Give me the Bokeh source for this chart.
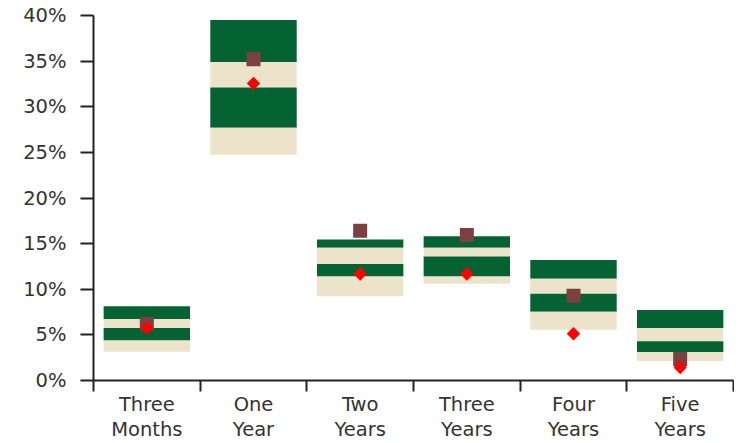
from bokeh.plotting import figure
from bokeh.models import Range1d, FixedTicker, NumeralTickFormatter, ColumnDataSource
from bokeh.embed import file_html
from bokeh.resources import INLINE
import numpy as np

categories = ["Three\nMonths", "One\nYear", "Two\nYears", "Three\nYears", "Four\nYears", "Five\nYears"]
# band boundaries (percent), top to bottom
p05 = [8.15, 39.5, 15.46, 15.82, 13.2, 7.72]
p25 = [6.75, 34.9, 14.56, 14.56, 11.14, 5.74]
p50 = [5.74, 32.1, 12.76, 13.59, 9.52, 4.3]
p75 = [4.37, 27.7, 11.39, 11.39, 7.54, 3.11]
p95 = [3.15, 24.75, 9.23, 10.6, 5.56, 2.14]
squares = [6.2, 35.2, 16.4, 15.95, 9.29, 2.36]
diamonds = [5.74, 32.56, 11.68, 11.68, 5.13, 1.42]
y_ticks = [0, 5, 10, 15, 20, 25, 30, 35, 40]

GREEN = "#056333"
BEIGE = "#EDE3CB"

x = [i + 0.5 for i in range(len(categories))]
f = lambda a: [v / 100 for v in a]
src = ColumnDataSource(dict(x=x, p05=f(p05), p25=f(p25), p50=f(p50), p75=f(p75), p95=f(p95),
                            sq=f(squares), dm=f(diamonds)))

p = figure(width=734, height=443, output_backend="svg", toolbar_location=None,
           x_range=Range1d(0, len(categories)), y_range=Range1d(0, 0.40),
           min_border_left=93, min_border_right=1, min_border_top=15, min_border_bottom=40)
p.outline_line_color = None
p.xgrid.visible = False
p.ygrid.visible = False

W = 0.81
p.vbar(x="x", width=W, bottom="p25", top="p05", source=src, fill_color=GREEN, line_color=None)
p.vbar(x="x", width=W, bottom="p50", top="p25", source=src, fill_color=BEIGE, line_color=None)
p.vbar(x="x", width=W, bottom="p75", top="p50", source=src, fill_color=GREEN, line_color=None)
p.vbar(x="x", width=W, bottom="p95", top="p75", source=src, fill_color=BEIGE, line_color=None)

p.scatter(x="x", y="sq", source=src, marker="square", size=14, fill_color="#7D4040", line_color=None)
p.scatter(x="x", y="dm", source=src, marker="square", angle=np.pi / 4, size=9.5,
          fill_color="#FF0000", line_color=None)

FONT = "DejaVu Sans"
TXT = "#333333"
AX = "#222222"
FS = "19.5px"

xa = p.xaxis[0]
xa.ticker = FixedTicker(ticks=x, minor_ticks=list(range(len(categories) + 1)))
xa.major_label_overrides = {xx: c for xx, c in zip(x, categories)}
xa.major_tick_out = 0
xa.major_tick_in = 0
xa.minor_tick_out = 11
xa.minor_tick_in = 0
xa.minor_tick_line_width = 2
xa.minor_tick_line_color = AX
xa.axis_line_width = 2
xa.axis_line_color = AX
xa.major_label_text_font = FONT
xa.major_label_text_font_size = FS
xa.major_label_text_color = TXT
xa.major_label_text_line_height = 1.1
xa.major_label_standoff = 1

ya = p.yaxis[0]
ya.ticker = FixedTicker(ticks=[t / 100 for t in y_ticks], minor_ticks=[])
ya.formatter = NumeralTickFormatter(format="0%")
ya.major_tick_out = 13
ya.major_tick_in = 0
ya.major_tick_line_width = 2
ya.major_tick_line_color = AX
ya.axis_line_width = 2
ya.axis_line_color = AX
ya.major_label_text_font = FONT
ya.major_label_text_font_size = FS
ya.major_label_text_color = TXT
ya.major_label_standoff = 14

open("out.html", "w").write(file_html(p, INLINE))
